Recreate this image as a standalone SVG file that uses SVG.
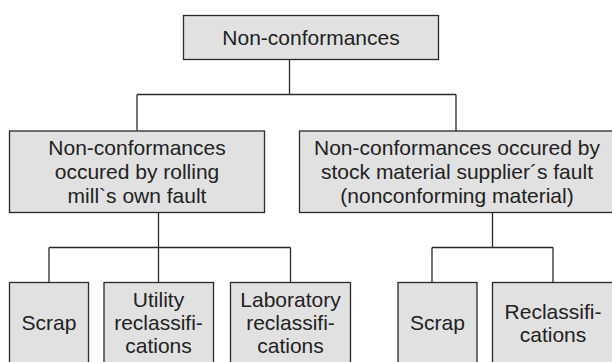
<svg xmlns="http://www.w3.org/2000/svg" width="612" height="362" viewBox="0 0 612 362">
<style>
.box{fill:#e1e1e1;stroke:#2a2a2a;stroke-width:1.3}
.t{font-family:"Liberation Sans",Arial,sans-serif;font-size:21px;fill:#222;text-anchor:middle}
.c{fill:none;stroke:#2a2a2a;stroke-width:1.3}
</style>
<rect width="612" height="362" fill="#fff"/>
<g id="connectors">
<path class="c" d="M289.5 59.5V94.5M137 94.5H456M137 94.5V131M456 94.5V131"/>
<path class="c" d="M158.5 212.5V247.5M49 247.5H290.5M49 247.5V282.5M158.5 247.5V282.5M290.5 247.5V282.5"/>
<path class="c" d="M492.5 212.5V247.5M432 247.5H553M432 247.5V282.5M553 247.5V282.5"/>
</g>
<g id="root">
<rect class="box" x="183.5" y="15.5" width="255" height="44"/>
<text class="t" x="311" y="45">Non-conformances</text>
</g>
<g id="own">
<rect class="box" x="9.5" y="131" width="255" height="81.5"/>
<text class="t" x="137" y="155">Non-conformances</text>
<text class="t" x="137" y="179">occured by rolling</text>
<text class="t" x="137" y="203">mill`s own fault</text>
</g>
<g id="supplier">
<rect class="box" x="299.5" y="131" width="314" height="81.5"/>
<text class="t" x="457" y="155">Non-conformances occured by</text>
<text class="t" x="457" y="179">stock material supplier´s fault</text>
<text class="t" x="457" y="203">(nonconforming material)</text>
</g>
<g id="scrap1">
<rect class="box" x="9.5" y="282.5" width="79" height="82"/>
<text class="t" x="49" y="330">Scrap</text>
</g>
<g id="utility">
<rect class="box" x="104" y="282.5" width="109.5" height="82"/>
<text class="t" x="158.5" y="307">Utility</text>
<text class="t" x="158.5" y="330">reclassifi-</text>
<text class="t" x="158.5" y="353">cations</text>
</g>
<g id="laboratory">
<rect class="box" x="230.5" y="282.5" width="120" height="82"/>
<text class="t" x="290.5" y="307">Laboratory</text>
<text class="t" x="290.5" y="330">reclassifi-</text>
<text class="t" x="290.5" y="353">cations</text>
</g>
<g id="scrap2">
<rect class="box" x="398" y="282.5" width="79" height="82"/>
<text class="t" x="437.5" y="330">Scrap</text>
</g>
<g id="reclass">
<rect class="box" x="492.5" y="282.5" width="122" height="82"/>
<text class="t" x="553" y="318.5">Reclassifi-</text>
<text class="t" x="553" y="341.5">cations</text>
</g>
</svg>
